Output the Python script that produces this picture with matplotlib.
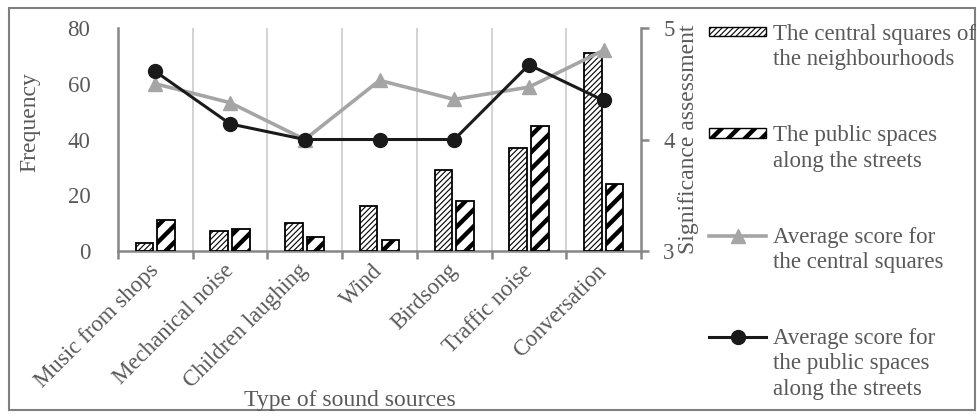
import matplotlib
matplotlib.use("Agg")
import matplotlib.pyplot as plt
import numpy as np
from matplotlib.patches import Patch, Rectangle
from matplotlib.lines import Line2D

plt.rcParams['font.family'] = ['Liberation Serif', 'DejaVu Serif']

categories = ["Music from shops", "Mechanical noise", "Children laughing", "Wind",
              "Birdsong", "Traffic noise", "Conversation"]
freq_central = [3, 7, 10, 16, 29, 37, 71]
freq_streets = [11, 8, 5, 4, 18, 45, 24]
score_central = [4.50, 4.33, 4.00, 4.53, 4.36, 4.47, 4.80]
score_streets = [4.61, 4.14, 4.00, 4.00, 4.00, 4.67, 4.35]

TEXT = '#595959'
SPINE = '#868686'
FS = 16.5

fig = plt.figure(figsize=(9.78, 4.18), dpi=100)
ax = fig.add_axes([0.1207, 0.3995, 0.5347, 0.5335])
ax2 = ax.twinx()

x = np.arange(len(categories))
w = 0.235
b1 = ax.bar(x - 0.145, freq_central, w, color='white', edgecolor='black',
            linewidth=1.3, hatch='//////', zorder=3)
b2 = ax.bar(x + 0.145, freq_streets, w, color='white', edgecolor='black',
            linewidth=1.3, hatch='//', zorder=3)
for p in b1:
    p.set_hatch_linewidth(0.8)
for p in b2:
    p.set_hatch_linewidth(3.2)

l1, = ax2.plot(x, score_central, color='#a5a5a5', lw=2.6, marker='^', ms=10, zorder=4)
l2, = ax2.plot(x, score_streets, color='#1a1a1a', lw=2.2, marker='o', ms=10, zorder=5)
ax.set_zorder(1)
ax2.set_zorder(2)
ax.patch.set_visible(False)

ax.set_xlim(-0.5, len(categories) - 0.5)
ax.set_ylim(0, 80)
ax2.set_ylim(3, 5)
ax.set_yticks([0, 20, 40, 60, 80])
ax2.set_yticks([3, 4, 5])

# category boundaries: tick marks and vertical grid
bounds = np.arange(len(categories) + 1) - 0.5
ax.set_xticks(x)
ax.set_xticklabels(categories, rotation=45, ha='right', va='center', rotation_mode='anchor')
ax.set_xticks(bounds, minor=True)
ax.tick_params(axis='x', which='major', length=0, pad=12, labelsize=FS, labelcolor=TEXT)
ax.tick_params(axis='x', which='minor', length=6, width=1.8, color=SPINE, direction='out')
for bx in bounds[1:-1]:
    ax.axvline(bx, color='#d0d0d0', lw=1.3, zorder=0)

ax.tick_params(axis='y', length=0, pad=20, labelsize=FS, labelcolor=TEXT)
ax2.tick_params(axis='y', length=6, width=1.8, color=SPINE, pad=10, labelsize=FS, labelcolor=TEXT)

for a in (ax, ax2):
    a.spines['top'].set_visible(False)
    for s in ('left', 'bottom', 'right'):
        a.spines[s].set_color(SPINE)
        a.spines[s].set_linewidth(1.8)
ax.spines['right'].set_visible(False)
ax2.spines['left'].set_visible(False)
ax2.spines['bottom'].set_visible(False)

ax.set_ylabel("Frequency", fontsize=FS + 0.5, color=TEXT)
ax.yaxis.set_label_coords(-0.148, 0.578)
ax2.set_ylabel("Significance assessment", fontsize=FS + 0.5, color=TEXT)
ax2.yaxis.set_label_coords(1.071, 0.5)
ax.set_xlabel("Type of sound sources", fontsize=FS + 0.5, color=TEXT)
ax.xaxis.set_label_coords(0.444, -0.625)

# legend: one row per text line, handle on the first line of each entry
blank = Line2D([], [], linestyle='none')
h1 = Patch(facecolor='white', edgecolor='black', hatch='//////', linewidth=1.0)
h2 = Patch(facecolor='white', edgecolor='black', hatch='//', linewidth=1.0)
handles = [h1, blank, blank, blank,
           h2, blank, blank, blank,
           l1, blank, blank, blank,
           l2, blank, blank]
labels = ["The central squares of", "the neighbourhoods", " ", " ",
          "The public spaces", "along the streets", " ", " ",
          "Average score for", "the central squares", " ", " ",
          "Average score for", "the public spaces", "along the streets"]
leg = fig.legend(handles, labels, loc='upper left', bbox_to_anchor=(0.725, 0.943),
                 frameon=False, fontsize=FS, labelspacing=0.19, handlelength=2.5,
                 handleheight=0.28, handletextpad=0.3, borderpad=0, borderaxespad=0)
for t in leg.get_texts():
    t.set_color(TEXT)
lh = leg.legend_handles
lh[0].set_hatch_linewidth(0.8)
lh[4].set_hatch_linewidth(3.2)

# outer frame
fig.add_artist(Rectangle((0.009, 0.018), 0.988, 0.962, transform=fig.transFigure,
                         fill=False, edgecolor='#7f7f7f', lw=1.5))

fig.savefig("out.png", dpi=100)
